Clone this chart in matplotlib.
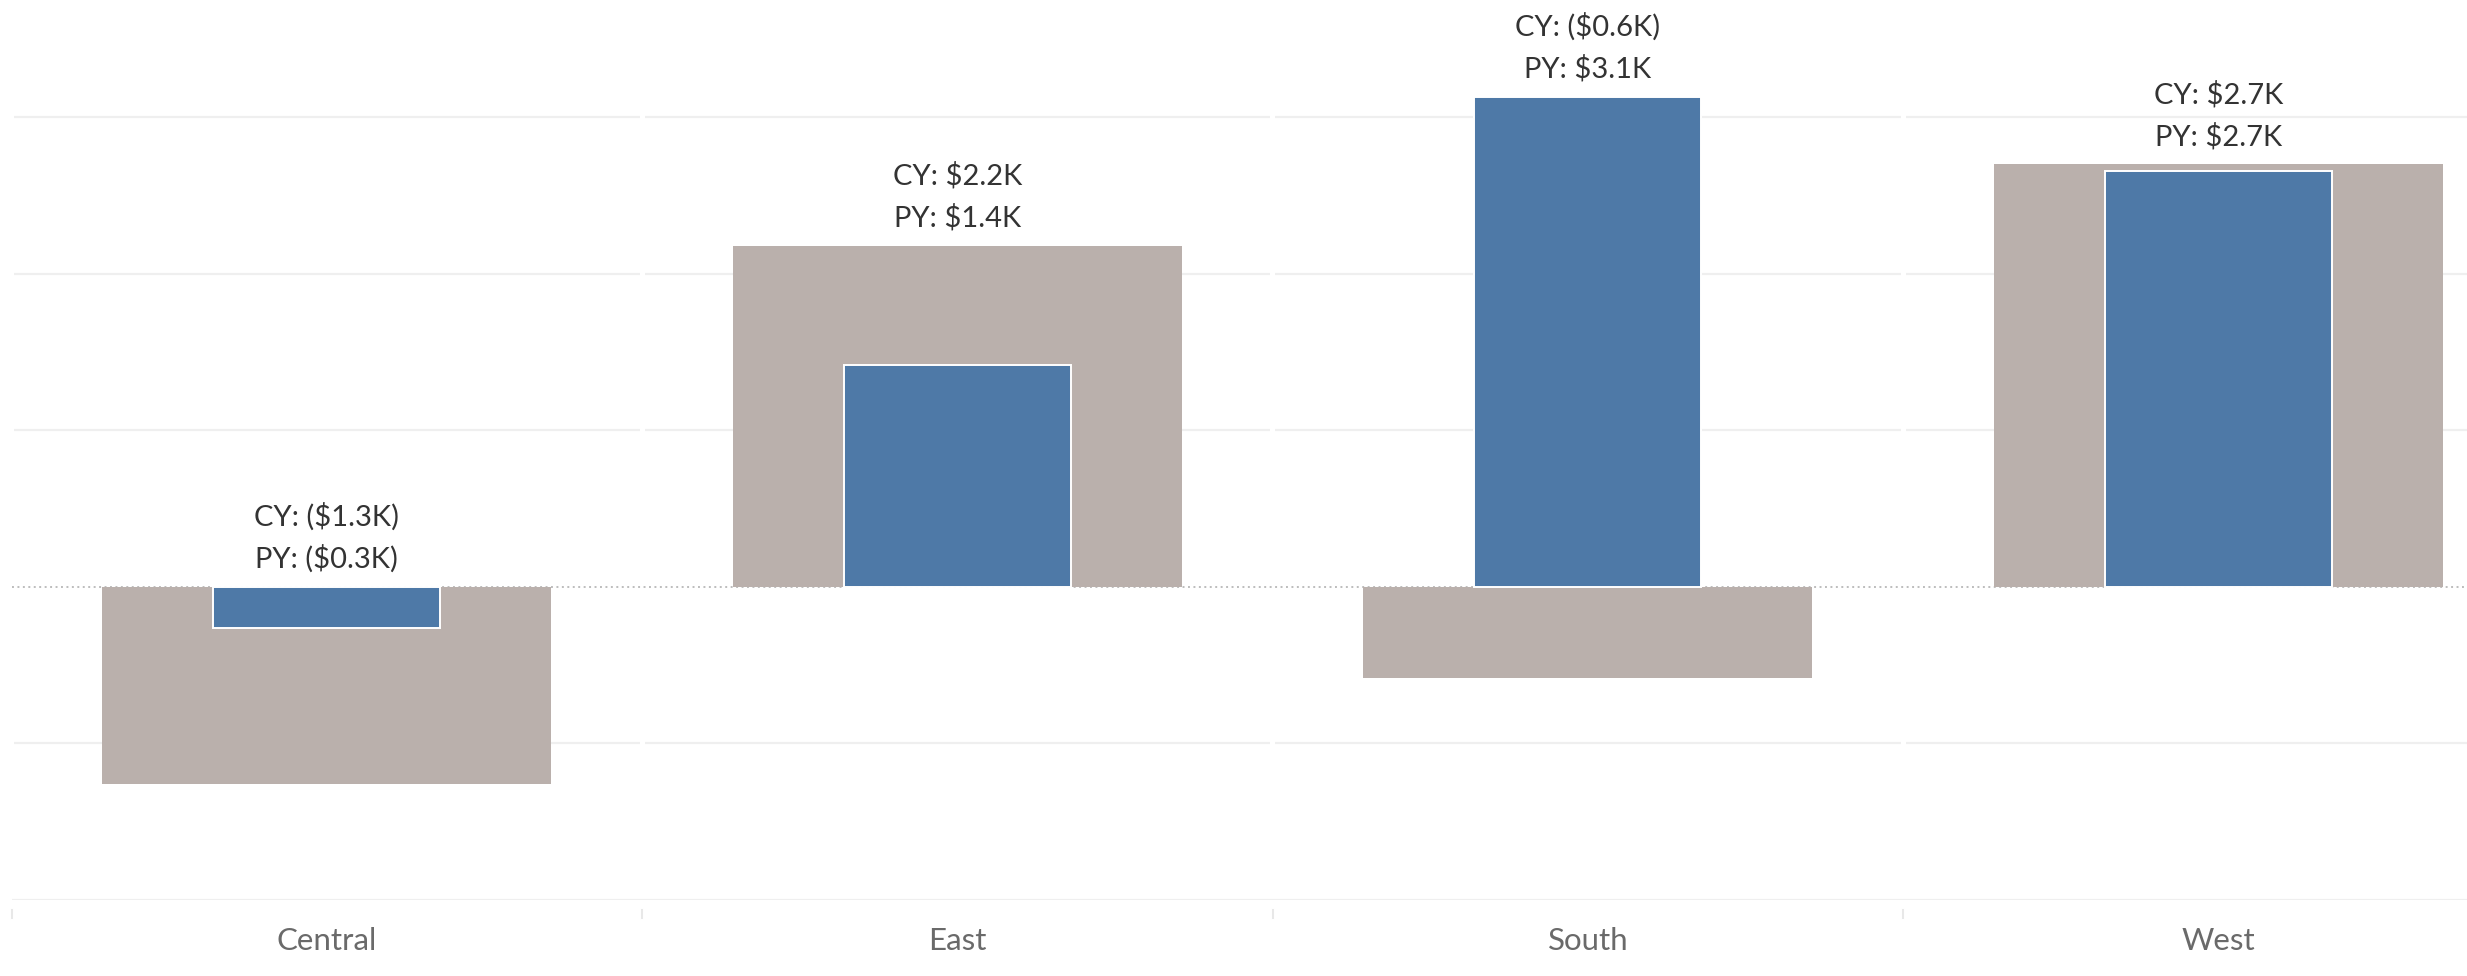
import matplotlib
matplotlib.use('Agg')
import matplotlib.pyplot as plt

# ---- data ----
regions = ['Central', 'East', 'South', 'West']
cy_values = [-1.26, 2.18, -0.58, 2.70]   # current year (K$) - wide grey bars
py_values = [-0.26, 1.42, 3.13, 2.66]    # prior year (K$) - narrow blue bars
grid_values = [-1, 1, 2, 3]

GREY = '#BAB0AC'
BLUE = '#4E79A7'
GRID = '#EFEFEF'

plt.rcParams['font.family'] = ['Lato', 'DejaVu Sans']

W, H = 2467, 976
fig = plt.figure(figsize=(W / 100, H / 100), dpi=100)
left_px, bottom_px = 11.5, 76
ax = fig.add_axes([left_px / W, bottom_px / H, 1 - left_px / W, 1 - bottom_px / H])
axes_h_px = H - bottom_px

n = len(regions)
x = list(range(n))
ax.set_xlim(-0.5, 3.394)
ax.set_ylim(-2, 3.75)
for s in ax.spines.values():
    s.set_visible(False)
ax.set_xticks([])
ax.set_yticks([])

# gridlines per pane (small gaps at pane boundaries)
gap = 0.004
for i in x:
    for g in grid_values:
        ax.hlines(g, i - 0.5 + gap, i + 0.5 - gap, color=GRID, lw=1.6, zorder=0)
# bottom axis line
ax.axhline(-2, color=GRID, lw=1.6, zorder=0)
# dotted zero line
ax.axhline(0, color='#BDBDBD', lw=1.4, linestyle=(0, (1, 1.8)), zorder=1)

# pane separators below axis
xt = ax.get_xaxis_transform()
for b in [i - 0.5 for i in range(n + 1)]:
    ax.plot([b, b], [-10 / axes_h_px, -18 / axes_h_px], transform=xt,
            color='#E8E8E8', lw=1.5, clip_on=False)

# bars
ax.bar(x, cy_values, width=0.712, color=GREY, zorder=2)
ax.bar(x, py_values, width=0.36, color=BLUE, edgecolor='white', linewidth=1.4, zorder=3)

def fmt(v):
    s = f"${abs(v):.1f}K"
    return f"({s})" if v < 0 else s

for i in x:
    top = max(0, cy_values[i], py_values[i])
    ax.annotate(f"CY: {fmt(cy_values[i])}", (i, top), xytext=(0, 70),
                textcoords='offset pixels', ha='center', va='center',
                fontsize=21, color='#333333', zorder=5)
    ax.annotate(f"PY: {fmt(py_values[i])}", (i, top), xytext=(0, 28),
                textcoords='offset pixels', ha='center', va='center',
                fontsize=21, color='#333333', zorder=5)
    ax.text(i, -41 / axes_h_px, regions[i], transform=xt, ha='center', va='center',
            fontsize=22.5, color='#6A6A6A')

fig.savefig('out.png', dpi=100, facecolor='white')
